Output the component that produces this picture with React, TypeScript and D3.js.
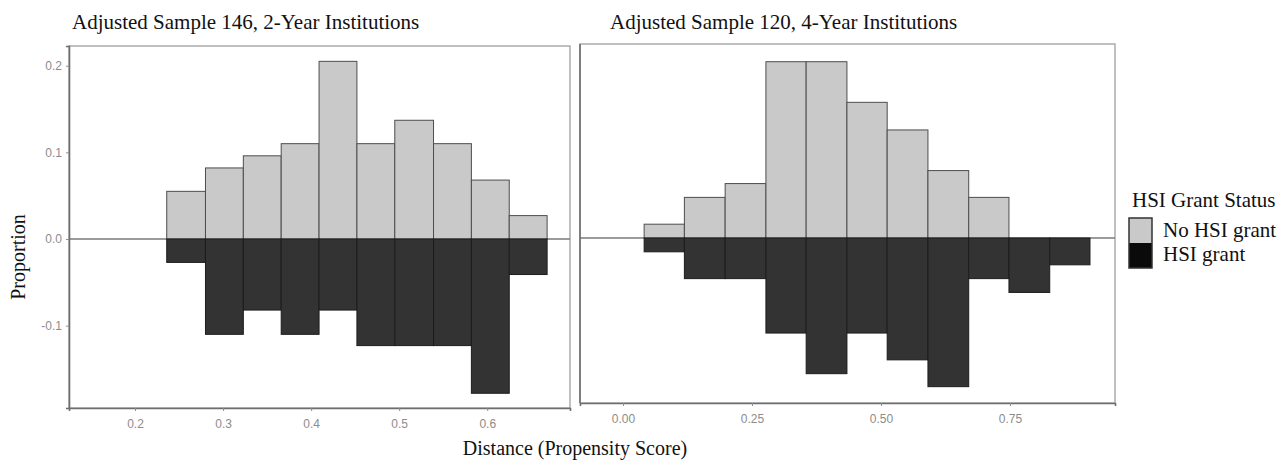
import React, { useEffect, useRef } from 'react';
import * as d3 from 'd3';

// panel titles
const panelTitles = ['Adjusted Sample 146, 2-Year Institutions', 'Adjusted Sample 120, 4-Year Institutions'];

// 2-year institutions: bin edges and proportions per bin
const twoYearBins = [0.236, 0.280, 0.323, 0.366, 0.409, 0.452, 0.495, 0.539, 0.582, 0.625, 0.668];
const twoYearNoGrant = [0.055, 0.082, 0.096, 0.110, 0.205, 0.110, 0.137, 0.110, 0.068, 0.027];
const twoYearGrant = [0.027, 0.110, 0.082, 0.110, 0.082, 0.123, 0.123, 0.123, 0.178, 0.041];
const twoYearXTicks = [0.2, 0.3, 0.4, 0.5, 0.6];

// 4-year institutions
const fourYearBins = [0.041, 0.119, 0.198, 0.277, 0.355, 0.434, 0.512, 0.591, 0.670, 0.748, 0.827, 0.905];
const fourYearNoGrant = [0.017, 0.050, 0.067, 0.217, 0.217, 0.167, 0.133, 0.083, 0.050, 0, 0];
const fourYearGrant = [0.017, 0.050, 0.050, 0.117, 0.167, 0.117, 0.150, 0.183, 0.050, 0.067, 0.033];
const fourYearXTicks = [0, 0.25, 0.5, 0.75];

const yTicks = [0.2, 0.1, 0.0, -0.1];
const legendTitle = 'HSI Grant Status';
const legendLabels = ['No HSI grant', 'HSI grant'];

const serif = '"Liberation Serif", "Times New Roman", serif';
const sans = '"Liberation Sans", Arial, sans-serif';
const lightFill = '#c9c9c9';
const darkFill = '#333333';

const App = () => {
  const ref = useRef<SVGSVGElement>(null);

  useEffect(() => {
    const svg = d3.select(ref.current);
    svg.selectAll('*').remove();

    const panels = [
      {
        title: panelTitles[0], titleX: 72,
        left: 69, right: 570, top: 46, bottom: 408,
        xDomain: [0.125, 0.694], yDomain: [-0.195, 0.2227],
        bins: twoYearBins, noGrant: twoYearNoGrant, grant: twoYearGrant,
        xTicks: twoYearXTicks, xFmt: (d: number) => d.toFixed(1), showY: true,
      },
      {
        title: panelTitles[1], titleX: 610,
        left: 580, right: 1115, top: 44, bottom: 403,
        xDomain: [-0.0833, 0.9535], yDomain: [-0.2031, 0.2388],
        bins: fourYearBins, noGrant: fourYearNoGrant, grant: fourYearGrant,
        xTicks: fourYearXTicks, xFmt: (d: number) => d.toFixed(2), showY: false,
      },
    ];

    panels.forEach(p => {
      const x = d3.scaleLinear().domain(p.xDomain).range([p.left, p.right]);
      const y = d3.scaleLinear().domain(p.yDomain).range([p.bottom, p.top]);
      const g = svg.append('g');

      // panel border
      g.append('rect')
        .attr('x', p.left).attr('y', p.top)
        .attr('width', p.right - p.left).attr('height', p.bottom - p.top)
        .attr('fill', 'white').attr('stroke', '#a6a6a6').attr('stroke-width', 1.4);

      // zero line
      g.append('line')
        .attr('x1', p.left).attr('x2', p.right)
        .attr('y1', y(0)).attr('y2', y(0))
        .attr('stroke', '#7a7a7a').attr('stroke-width', 1.5);

      const bins = p.noGrant.map((v, i) => ({ x0: p.bins[i], x1: p.bins[i + 1], up: v, down: p.grant[i] }));

      // No HSI grant above zero
      g.selectAll('.up')
        .data(bins.filter(d => d.up > 0))
        .join('rect')
        .attr('x', d => x(d.x0)).attr('width', d => x(d.x1) - x(d.x0))
        .attr('y', d => y(d.up)).attr('height', d => y(0) - y(d.up))
        .attr('fill', lightFill).attr('stroke', '#4d4d4d').attr('stroke-width', 1);

      // HSI grant below zero
      g.selectAll('.down')
        .data(bins.filter(d => d.down > 0))
        .join('rect')
        .attr('x', d => x(d.x0)).attr('width', d => x(d.x1) - x(d.x0))
        .attr('y', y(0)).attr('height', d => y(-d.down) - y(0))
        .attr('fill', darkFill).attr('stroke', '#1c1c1c').attr('stroke-width', 1);

      // x axis
      const xa = g.append('g')
        .attr('transform', `translate(0,${p.bottom})`)
        .call(d3.axisBottom(x).tickValues(p.xTicks).tickFormat(p.xFmt as any).tickSize(3).tickPadding(8));
      xa.select('.domain').attr('stroke', '#6e6e6e').attr('stroke-width', 1.6);
      xa.selectAll('.tick line').attr('stroke', '#8c8c8c');
      xa.selectAll('text').attr('fill', '#8c8c8c').style('font', `12px ${sans}`);

      if (p.showY) {
        const ya = g.append('g')
          .attr('transform', `translate(${p.left},0)`)
          .call(d3.axisLeft(y).tickValues(yTicks).tickFormat((d: any) => d.toFixed(1)).tickSize(3).tickPadding(4));
        ya.select('.domain').attr('stroke', '#6e6e6e').attr('stroke-width', 1.6);
        ya.selectAll('.tick line').attr('stroke', '#8c8c8c');
        ya.selectAll('text').attr('fill', '#8c8c8c').style('font', `12px ${sans}`);
      } else {
        g.append('line')
          .attr('x1', p.left).attr('x2', p.left).attr('y1', p.top).attr('y2', p.bottom)
          .attr('stroke', '#6e6e6e').attr('stroke-width', 1.6);
      }

      // title
      svg.append('text')
        .attr('x', p.titleX).attr('y', 29)
        .attr('fill', '#111').style('font', `21px ${serif}`)
        .text(p.title);
    });

    // axis titles
    svg.append('text')
      .attr('transform', 'translate(25,257) rotate(-90)')
      .attr('text-anchor', 'middle').attr('fill', '#111')
      .style('font', `20px ${serif}`)
      .text('Proportion');

    svg.append('text')
      .attr('x', 575).attr('y', 455)
      .attr('text-anchor', 'middle').attr('fill', '#111')
      .style('font', `20px ${serif}`)
      .text('Distance (Propensity Score)');

    // legend
    const legend = svg.append('g');
    legend.append('text')
      .attr('x', 1132).attr('y', 207)
      .attr('fill', '#111').style('font', `21px ${serif}`)
      .text(legendTitle);

    [lightFill, '#0a0a0a'].forEach((c, i) => {
      legend.append('rect')
        .attr('x', 1129).attr('y', 218 + i * 25)
        .attr('width', 23).attr('height', 25)
        .attr('fill', c);
      legend.append('text')
        .attr('x', 1163).attr('y', 237 + i * 24)
        .attr('fill', '#111').style('font', `21px ${serif}`)
        .text(legendLabels[i]);
    });
    legend.append('rect')
      .attr('x', 1129).attr('y', 218).attr('width', 23).attr('height', 50)
      .attr('fill', 'none').attr('stroke', '#333').attr('stroke-width', 1.5);
  }, []);

  return (
    <svg
      ref={ref}
      width={1288}
      height={461}
      style={{ position: 'absolute', left: 0, top: 0, background: 'white' }}
    />
  );
};

export default App;
